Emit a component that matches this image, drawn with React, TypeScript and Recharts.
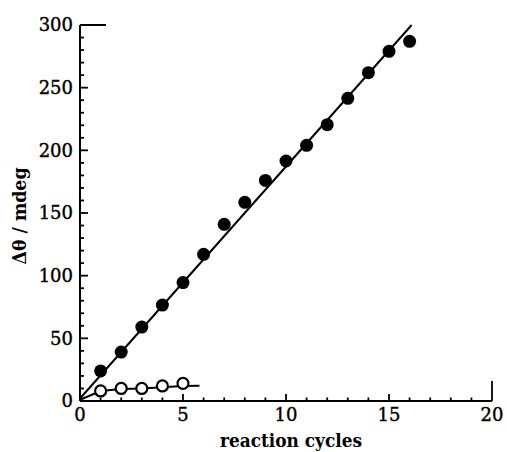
import { ScatterChart, Scatter, XAxis, YAxis, Label } from "recharts";

// filled circles
const filledCycles = [1, 2, 3, 4, 5, 6, 7, 8, 9, 10, 11, 12, 13, 14, 15, 16];
const filledValues = [24, 39, 59, 76.5, 94.5, 117, 141, 158.5, 176, 191.5, 204, 220.5, 241.5, 262, 279, 287];

// open circles
const openCycles = [1, 2, 3, 4, 5];
const openValues = [8, 10, 10, 12, 14];

// drawn fit lines
const filledFitX = [0, 16.1];
const filledFitY = [2, 300];
const openFitX = [0, 1, 2, 3, 4, 5, 5.8];
const openFitY = [1, 8, 9.5, 10, 11, 12, 12.2];

const xTicks = [0, 1, 2, 3, 4, 5, 6, 7, 8, 9, 10, 11, 12, 13, 14, 15, 16, 17, 18, 19, 20];
const yTicks = [0, 10, 20, 30, 40, 50, 60, 70, 80, 90, 100, 110, 120, 130, 140, 150, 160, 170, 180, 190, 200, 210, 220, 230, 240, 250, 260, 270, 280, 290, 300];

const zip = (xs: number[], ys: number[]) => xs.map((x, i) => ({ x, y: ys[i] }));

const filledData = zip(filledCycles, filledValues);
const openData = zip(openCycles, openValues);
const filledFit = zip(filledFitX, filledFitY);
const openFit = zip(openFitX, openFitY);

const FONT = "'DejaVu Serif', 'Liberation Serif', serif";

function XTick(props: any) {
  const { x, y, payload } = props;
  const v = payload.value;
  const major = v % 5 === 0;
  const len = v === 20 ? 20 : major ? 7 : 3.5;
  return (
    <g>
      <line x1={x} y1={y} x2={x} y2={y - len} stroke="#000" strokeWidth={1.8} />
      {major && (
        <text x={x} y={y + 20} textAnchor="middle" fontFamily={FONT} fontSize={18} fill="#000" stroke="#000" strokeWidth={0.4}>
          {v}
        </text>
      )}
    </g>
  );
}

function YTick(props: any) {
  const { x, y, payload } = props;
  const v = payload.value;
  const major = v % 50 === 0;
  const len = v === 300 ? 26 : major ? 8 : 4;
  return (
    <g>
      <line x1={x} y1={y} x2={x + len} y2={y} stroke="#000" strokeWidth={v === 300 ? 2 : 1.8} />
      {major && (
        <text x={x - 7} y={y} dy="0.36em" textAnchor="end" fontFamily={FONT} fontSize={18} fill="#000" stroke="#000" strokeWidth={0.4}>
          {v}
        </text>
      )}
    </g>
  );
}

const filledDot = (p: any) => <circle cx={p.cx} cy={p.cy} r={6.5} fill="#000" />;
const openDot = (p: any) => (
  <circle cx={p.cx} cy={p.cy} r={5.5} fill="#fff" stroke="#000" strokeWidth={2.2} />
);
const noDot = () => <g />;

export default function App() {
  return (
    <div style={{ position: "absolute", left: 0, top: 0, background: "#fff" }}>
      <ScatterChart width={507} height={452} margin={{ top: 25, right: 15, bottom: 0, left: 0 }}>
        <XAxis
          dataKey="x"
          type="number"
          domain={[0, 20]}
          ticks={xTicks}
          interval={0}
          tickLine={false}
          tickSize={0}
          tickMargin={0}
          tick={<XTick />}
          axisLine={{ stroke: "#000", strokeWidth: 2 }}
          height={51}
        >
          <Label
            content={() => (
              <text
                x={291}
                y={447}
                textAnchor="middle"
                fontFamily={FONT}
                fontWeight="bold"
                fontSize={19}
                textLength={142}
                lengthAdjust="spacingAndGlyphs"
                fill="#000"
              >
                reaction cycles
              </text>
            )}
          />
        </XAxis>
        <YAxis
          dataKey="y"
          type="number"
          domain={[0, 300]}
          ticks={yTicks}
          interval={0}
          tickLine={false}
          tickSize={0}
          tickMargin={0}
          tick={<YTick />}
          axisLine={{ stroke: "#000", strokeWidth: 2 }}
          width={80}
        >
          <Label
            content={() => (
              <text
                x={19}
                y={216}
                transform="rotate(-90, 19, 216)"
                textAnchor="middle"
                dominantBaseline="central"
                fontFamily={FONT}
                fontWeight="bold"
                fontSize={18}
                textLength={97}
                lengthAdjust="spacingAndGlyphs"
                fill="#000"
              >
                Δθ / mdeg
              </text>
            )}
          />
        </YAxis>
        <Scatter
          data={filledFit}
          line={{ stroke: "#000", strokeWidth: 2 }}
          shape={noDot}
          isAnimationActive={false}
        />
        <Scatter
          data={openFit}
          line={{ stroke: "#000", strokeWidth: 2 }}
          shape={noDot}
          isAnimationActive={false}
        />
        <Scatter data={filledData} shape={filledDot} isAnimationActive={false} />
        <Scatter data={openData} shape={openDot} isAnimationActive={false} />
      </ScatterChart>
    </div>
  );
}
